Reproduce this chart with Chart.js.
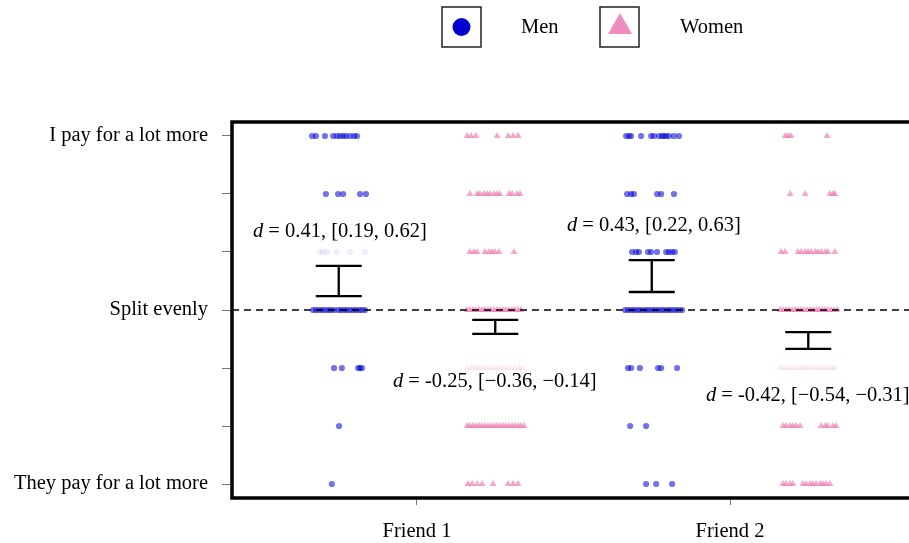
<!DOCTYPE html>
<html lang="en">
<head>
<meta charset="UTF-8">
<title>Who pays: Friend 1 / Friend 2</title>
<script src="https://cdn.jsdelivr.net/npm/chart.js"></script>
<style>
  html, body { margin: 0; padding: 0; background: #fff; overflow: hidden; }
  #wrap { width: 930px; height: 543px; }
</style>
</head>
<body>
<div id="wrap"><canvas id="myChart" width="930" height="543"></canvas></div>
<script>
// categories and axis labels
const categories = ['Friend 1', 'Friend 2'];
const categoryPos = [1, 2];
const yTickValues = [-3, -2, -1, 0, 1, 2, 3];
const yTickText = ['They pay for a lot more', '', '', 'Split evenly', '', '', 'I pay for a lot more'];

// jittered responses: [level, x positions]
const menFriend1 = [
  [3, [0.665, 0.677, 0.706, 0.732, 0.744, 0.754, 0.764, 0.773, 0.786, 0.799, 0.808]],
  [2, [0.709, 0.748, 0.764, 0.818, 0.837]],
  [1, [0.690, 0.700, 0.712, 0.744, 0.786, 0.834]],
  [0, [0.668, 0.677, 0.687, 0.696, 0.706, 0.716, 0.725, 0.735, 0.748, 0.757, 0.767, 0.776, 0.786, 0.796, 0.805, 0.815, 0.824, 0.834]],
  [-1, [0.735, 0.760, 0.812, 0.818, 0.824]],
  [-2, [0.751]],
  [-3, [0.728]]
];
const womenFriend1 = [
  [3, [1.160, 1.173, 1.188, 1.256, 1.291, 1.307, 1.323]],
  [2, [1.169, 1.192, 1.201, 1.214, 1.224, 1.233, 1.246, 1.256, 1.265, 1.294, 1.304, 1.319, 1.329]],
  [1, [1.169, 1.182, 1.192, 1.217, 1.230, 1.240, 1.249, 1.262, 1.310]],
  [0, [1.160, 1.169, 1.179, 1.188, 1.198, 1.208, 1.217, 1.227, 1.236, 1.246, 1.256, 1.265, 1.275, 1.284, 1.294, 1.304, 1.313, 1.323, 1.332]],
  [-1, [1.160, 1.173, 1.185, 1.198, 1.211, 1.224, 1.236, 1.249, 1.262, 1.275, 1.288, 1.300, 1.313, 1.326, 1.335]],
  [-2, [1.160, 1.169, 1.179, 1.188, 1.198, 1.208, 1.217, 1.227, 1.236, 1.246, 1.256, 1.265, 1.275, 1.284, 1.294, 1.304, 1.313, 1.323, 1.332, 1.342]],
  [-3, [1.163, 1.176, 1.192, 1.208, 1.243, 1.291, 1.307, 1.323]]
];
const menFriend2 = [
  [3, [1.668, 1.677, 1.684, 1.716, 1.748, 1.757, 1.773, 1.783, 1.789, 1.796, 1.805, 1.821, 1.837]],
  [2, [1.671, 1.684, 1.693, 1.767, 1.780, 1.821]],
  [1, [1.687, 1.700, 1.709, 1.738, 1.748, 1.767, 1.796, 1.805, 1.815, 1.824]],
  [0, [1.665, 1.674, 1.684, 1.693, 1.703, 1.712, 1.722, 1.732, 1.741, 1.751, 1.760, 1.770, 1.780, 1.789, 1.799, 1.808, 1.818, 1.827, 1.837, 1.847]],
  [-1, [1.674, 1.684, 1.712, 1.770, 1.780, 1.831]],
  [-2, [1.681, 1.732]],
  [-3, [1.732, 1.764, 1.815]]
];
const womenFriend2 = [
  [3, [2.176, 2.185, 2.195, 2.310]],
  [2, [2.192, 2.240, 2.319, 2.329, 2.335]],
  [1, [2.163, 2.176, 2.217, 2.227, 2.240, 2.249, 2.259, 2.272, 2.281, 2.291, 2.304, 2.313, 2.335]],
  [0, [2.160, 2.169, 2.179, 2.188, 2.198, 2.208, 2.217, 2.227, 2.236, 2.246, 2.256, 2.265, 2.275, 2.284, 2.294, 2.304, 2.313, 2.323, 2.332, 2.342]],
  [-1, [2.160, 2.173, 2.185, 2.198, 2.211, 2.224, 2.236, 2.249, 2.262, 2.275, 2.288, 2.300, 2.313, 2.326, 2.335]],
  [-2, [2.169, 2.179, 2.192, 2.201, 2.211, 2.224, 2.291, 2.304, 2.313, 2.329, 2.339]],
  [-3, [2.169, 2.179, 2.192, 2.201, 2.233, 2.243, 2.256, 2.265, 2.275, 2.288, 2.297, 2.307, 2.319]]
];

// confidence intervals of the group means (men F1, women F1, men F2, women F2)
const barX = [0.75, 1.25, 1.75, 2.25];
const ciLow = [0.24, -0.41, 0.31, -0.67];
const ciHigh = [0.76, -0.17, 0.86, -0.38];

// effect size labels
const dText = [' = 0.41, [0.19, 0.62]', ' = -0.25, [\u22120.36, \u22120.14]', ' = 0.43, [0.22, 0.63]', ' = -0.42, [\u22120.54, \u22120.31]'];
const dLabelX = [0.476, 0.923, 1.479, 1.923];
const dLabelY = [1.36, -1.23, 1.46, -1.47];

const FONT = '"Liberation Serif", "Times New Roman", serif';
const FS = 20.5;
const MEN = 'rgba(0, 0, 215, 0.55)';
const MEN_PALE = 'rgba(0, 0, 215, 0.07)';
const WOMEN = 'rgba(236, 120, 178, 0.65)';
const WOMEN_PALE = 'rgba(236, 120, 178, 0.15)';

function toPoints(rows) {
  return rows.flatMap(([y, xs]) => xs.map(x => ({ x: x, y: y })));
}

function makeSet(label, rows, isMen, paleLevel) {
  return {
    label: label,
    data: toPoints(rows),
    pointStyle: isMen ? 'circle' : 'triangle',
    pointRadius: isMen ? 3.1 : 4,
    borderWidth: 0,
    backgroundColor: ctx => {
      const pale = ctx.raw && ctx.raw.y === paleLevel;
      if (isMen) return pale ? MEN_PALE : MEN;
      return pale ? WOMEN_PALE : WOMEN;
    }
  };
}

const extras = {
  id: 'extras',
  beforeDatasetsDraw(chart) {
    const { ctx, chartArea: a } = chart;
    ctx.save();
    ctx.strokeStyle = '#000';
    ctx.lineWidth = 3.5;
    ctx.strokeRect(a.left, a.top, a.right - a.left, a.bottom - a.top);
    ctx.restore();
  },
  afterDatasetsDraw(chart) {
    const { ctx, chartArea: a, scales } = chart;
    const xs = scales.x, ys = scales.y;
    ctx.save();
    // zero line
    const y0 = ys.getPixelForValue(0);
    ctx.strokeStyle = '#000';
    ctx.lineWidth = 1.5;
    ctx.setLineDash([7, 5]);
    ctx.beginPath();
    ctx.moveTo(a.left, y0);
    ctx.lineTo(a.right, y0);
    ctx.stroke();
    ctx.setLineDash([]);

    // error bars
    ctx.lineWidth = 2.3;
    barX.forEach((bx, i) => {
      const px = xs.getPixelForValue(bx);
      const top = ys.getPixelForValue(ciHigh[i]);
      const bot = ys.getPixelForValue(ciLow[i]);
      const cap = 23;
      ctx.beginPath();
      ctx.moveTo(px, top); ctx.lineTo(px, bot);
      ctx.moveTo(px - cap, top); ctx.lineTo(px + cap, top);
      ctx.moveTo(px - cap, bot); ctx.lineTo(px + cap, bot);
      ctx.stroke();
    });

    // d labels
    ctx.fillStyle = '#000';
    ctx.textBaseline = 'middle';
    ctx.textAlign = 'left';
    dText.forEach((t, i) => {
      const px = xs.getPixelForValue(dLabelX[i]);
      const py = ys.getPixelForValue(dLabelY[i]);
      ctx.font = 'italic ' + FS + 'px ' + FONT;
      ctx.fillText('d', px, py);
      const w = ctx.measureText('d').width;
      ctx.font = FS + 'px ' + FONT;
      ctx.fillText(t, px + w, py);
    });

    // legend
    ctx.lineWidth = 1.5;
    ctx.strokeStyle = '#222';
    ctx.strokeRect(442, 7, 39, 40);
    ctx.strokeRect(600, 7, 39, 40);
    ctx.fillStyle = '#0000cc';
    ctx.beginPath();
    ctx.arc(461.5, 27, 9, 0, Math.PI * 2);
    ctx.fill();
    ctx.fillStyle = '#ee8cbf';
    ctx.beginPath();
    ctx.moveTo(608, 34); ctx.lineTo(632, 34); ctx.lineTo(620, 13);
    ctx.closePath();
    ctx.fill();
    ctx.fillStyle = '#000';
    ctx.font = FS + 'px ' + FONT;
    ctx.fillText('Men', 521, 28);
    ctx.fillText('Women', 680, 28);
    ctx.restore();
  }
};

const ctx = document.getElementById('myChart').getContext('2d');
new Chart(ctx, {
  type: 'scatter',
  data: {
    datasets: [
      makeSet('Men Friend 1', menFriend1, true, 1),
      makeSet('Women Friend 1', womenFriend1, false, -1),
      makeSet('Men Friend 2', menFriend2, true, null),
      makeSet('Women Friend 2', womenFriend2, false, -1)
    ]
  },
  options: {
    responsive: false,
    animation: false,
    layout: { padding: { top: 122, right: 15, left: 0, bottom: 0 } },
    plugins: { legend: { display: false }, tooltip: { enabled: false } },
    scales: {
      x: {
        type: 'linear',
        min: 0.409,
        max: 2.591,
        afterBuildTicks: s => { s.ticks = categoryPos.map(v => ({ value: v })); },
        afterFit: s => { s.height = 45; },
        ticks: {
          callback: v => categories[categoryPos.indexOf(v)] || '',
          color: '#000',
          font: { family: FONT, size: FS },
          padding: 14,
          maxRotation: 0
        },
        grid: { drawOnChartArea: false, drawTicks: true, tickLength: 7, color: '#777', lineWidth: 1 },
        border: { display: false }
      },
      y: {
        type: 'linear',
        min: -3.241,
        max: 3.241,
        afterBuildTicks: s => { s.ticks = yTickValues.map(v => ({ value: v })); },
        afterFit: s => { s.width = 232; },
        ticks: {
          callback: v => yTickText[yTickValues.indexOf(v)],
          color: '#000',
          font: { family: FONT, size: FS },
          padding: 14
        },
        grid: { drawOnChartArea: false, drawTicks: true, tickLength: 10, color: '#777', lineWidth: 1 },
        border: { display: false }
      }
    }
  },
  plugins: [extras]
});
</script>
</body>
</html>
